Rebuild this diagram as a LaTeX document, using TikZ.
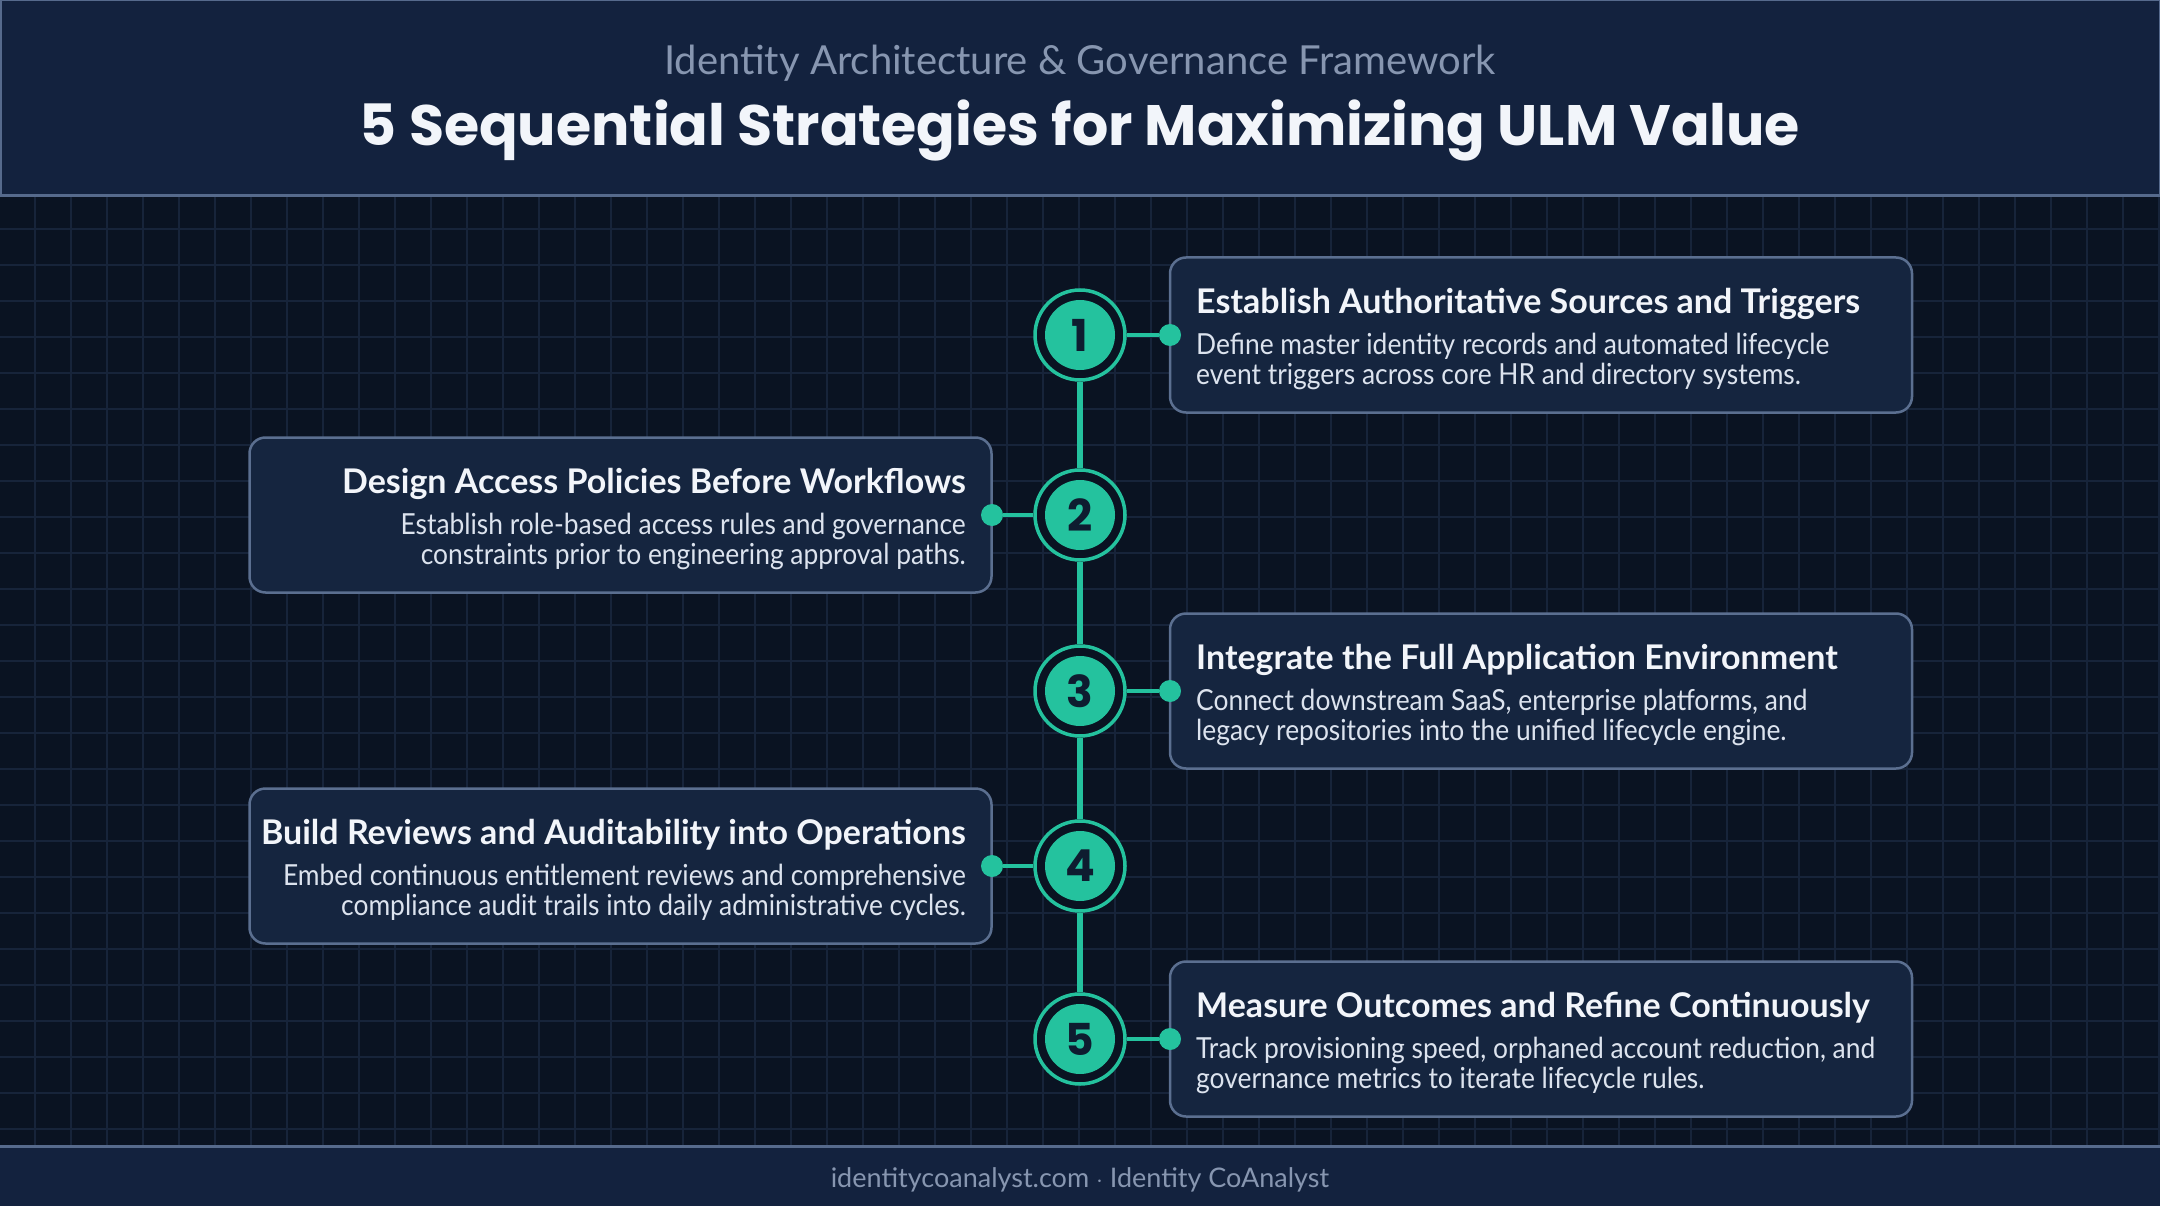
\documentclass[tikz,border=0pt]{standalone}
\usepackage{fontspec}
\setmainfont{Lato}
\newfontfamily\headfont{Poppins}
\newfontfamily\cardfont{Lato}[FakeStretch=0.91]
\definecolor{bgdark}{HTML}{0A1322}
\definecolor{gridline}{HTML}{17243A}
\definecolor{headfill}{HTML}{13223E}
\definecolor{headline}{HTML}{566A8C}
\definecolor{cardfill}{HTML}{15253F}
\definecolor{cardline}{HTML}{5B6F90}
\definecolor{tealmark}{HTML}{24C29E}
\definecolor{numink}{HTML}{0E1C30}
\definecolor{headink}{HTML}{F2F5FA}
\definecolor{bodyink}{HTML}{DCE3EE}
\definecolor{subink}{HTML}{8796B0}

\begin{document}
\begin{tikzpicture}[x=1pt,y=-1pt,
    card/.style={draw=cardline, line width=2.5pt, fill=cardfill, rounded corners=16pt,
      minimum width=742pt, minimum height=155pt, inner sep=0pt},
    ring/.style={circle, draw=tealmark, line width=3.5pt, fill=bgdark, minimum size=90pt, inner sep=0pt},
    disc/.style={circle, fill=tealmark, minimum size=70pt, inner sep=0pt, text=numink,
      font=\headfont\bfseries\fontsize{44}{44}\selectfont},
    dot/.style={circle, fill=tealmark, minimum size=22pt, inner sep=0pt},
    spine/.style={draw=tealmark, line width=6pt},
    stub/.style={draw=tealmark, line width=4pt},
    head/.style={text=headink, font=\bfseries\fontsize{34}{38}\selectfont, inner sep=0pt},
    body/.style={text=bodyink, font=\cardfont\fontsize{29}{30}\selectfont, inner sep=0pt}]
  \useasboundingbox (0,0) rectangle (2160,1206);
  \fill[bgdark] (0,0) rectangle (2160,1206);
  \foreach \x in {35,71,...,2160} \draw[gridline, line width=1.5pt] (\x,196) -- (\x,1146);
  \foreach \y in {229,265,...,1146} \draw[gridline, line width=1.5pt] (0,\y) -- (2160,\y);
  \fill[headfill] (0,0) rectangle (2160,196);
  \draw[headline, line width=1.5pt] (0.75,0.75) rectangle (2159.25,196);
  \draw[headline, line width=3pt] (0,196) -- (2160,196);
  \fill[headfill] (0,1146) rectangle (2160,1206);
  \draw[headline, line width=3pt] (0,1146) -- (2160,1146);
  \node[anchor=base, text=subink, font=\fontsize{40}{40}\selectfont] (subtitle) at (1080,75)
    {Identity Architecture \& Governance Framework};
  \node[anchor=base, text=headink, font=\headfont\bfseries\fontsize{57}{57}\selectfont] (title) at (1080,146)
    {5 Sequential Strategies for Maximizing ULM Value};
  \node[anchor=base, text=subink, font=\fontsize{27}{27}\selectfont] (footer) at (1080,1187)
    {identitycoanalyst.com $\cdot$ Identity CoAnalyst};

  \foreach \n/\yc in {1/335,2/515,3/691,4/866,5/1039} {
    \node[ring] (n\n) at (1080,\yc) {};
    \node[disc] (k\n) at (n\n) {\n};
  }
  \foreach \a/\b in {1/2,2/3,3/4,4/5} \draw[spine] (n\a) -- (n\b);

  \foreach \n/\yc/\head/\la/\lb in {
      1/335/{Establish Authoritative Sources and Triggers}/{Define master identity records and automated lifecycle}/{event triggers across core HR and directory systems.},
      3/691/{Integrate the Full Application Environment}/{Connect downstream SaaS, enterprise platforms, and}/{legacy repositories into the unified lifecycle engine.},
      5/1039/{Measure Outcomes and Refine Continuously}/{Track provisioning speed, orphaned account reduction, and}/{governance metrics to iterate lifecycle rules.}} {
    \node[card] (c\n) at (1541,\yc) {};
    \node[head, anchor=base west] (h\n) at (1196,\yc-22) {\head};
    \node[body, anchor=base west] (b\n) at (1196,\yc+19.5) {\la};
    \node[body, anchor=base west] (e\n) at (1196,\yc+49.5) {\lb};
    \node[dot] (d\n) at (1170,\yc) {};
    \draw[stub] (n\n) -- (d\n);
  }
  \foreach \n/\yc/\head/\la/\lb in {
      2/515/{Design Access Policies Before Workflows}/{Establish role-based access rules and governance}/{constraints prior to engineering approval paths.},
      4/866/{Build Reviews and Auditability into Operations}/{Embed continuous entitlement reviews and comprehensive}/{compliance audit trails into daily administrative cycles.}} {
    \node[card] (c\n) at (620.5,\yc) {};
    \node[head, anchor=base east] (h\n) at (966,\yc-22) {\head};
    \node[body, anchor=base east] (b\n) at (966,\yc+19.5) {\la};
    \node[body, anchor=base east] (e\n) at (966,\yc+49.5) {\lb};
    \node[dot] (d\n) at (992,\yc) {};
    \draw[stub] (n\n) -- (d\n);
  }
\end{tikzpicture}
\end{document}
